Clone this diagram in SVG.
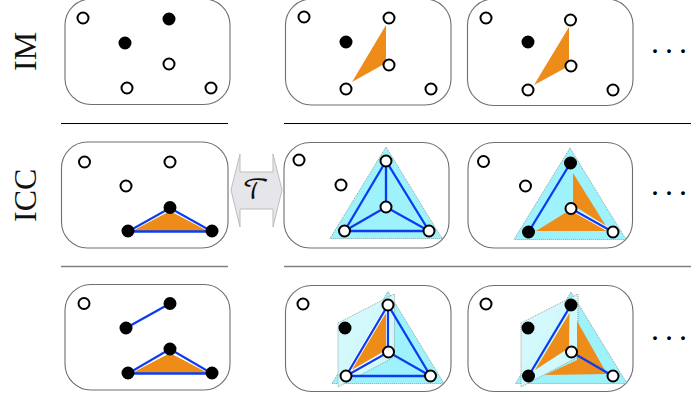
<svg xmlns="http://www.w3.org/2000/svg" width="691" height="398" viewBox="0 0 691 398">
<style>
.box{fill:#fff;stroke:#6f6f6f;stroke-width:1.1}
.o{fill:#fff;stroke:#000;stroke-width:2}
.b{fill:#000;stroke:#000;stroke-width:2}
.rule{stroke:#000;stroke-width:1;fill:none}
.rule2{stroke:#808080;stroke-width:1.5;fill:none}
.tri{fill:#9ef2fb;stroke:#777;stroke-width:.7;stroke-dasharray:1 1}
.par{fill:#d2f9fc;fill-opacity:.95;stroke:#777;stroke-width:.7;stroke-dasharray:1 1}
.org{fill:#ee8c1a;stroke:none}
.halo{stroke:#fff;stroke-width:4;fill:none;stroke-linecap:round}
.e{stroke:#0b3cf2;stroke-width:2.3;fill:none;stroke-linecap:round}
.lbl{font-family:"Liberation Serif",serif;font-size:32px;fill:#111}
.dots{font-family:"Liberation Serif",serif;font-size:32px;fill:#000}
</style>
<defs>
<circle id="n" r="5.5"/>
</defs>
<g id="labels">
<text class="lbl" transform="translate(36,71) rotate(-90)">IM</text>
<text class="lbl" transform="translate(36,222) rotate(-90)">ICC</text>
<text class="dots" x="651 665 679" y="53">...</text>
<text class="dots" x="651 665 679" y="195">...</text>
<text class="dots" x="651 665 679" y="340">...</text>
</g>
<g id="rules">
<path class="rule" d="M61 123.5H228M284 123.5H691"/>
<path class="rule2" d="M61 266.5H228M284 266.5H691"/>
</g>
<g id="panels">
<g id="im-1"><rect class="box" x="65" y="-1" width="165" height="105.5" rx="26"/></g>
<g id="im-2"><rect class="box" x="285.5" y="-1" width="165.5" height="106" rx="26"/><polygon class="org" points="386,25 386,63 352,82"/></g>
<g id="im-3"><rect class="box" x="467.5" y="-1" width="165.5" height="106.5" rx="26"/><polygon class="org" points="569,27 569,66 534,85"/></g>
<g id="icc-1"><rect class="box" x="61.5" y="142" width="166.5" height="106" rx="26"/><polygon class="org" points="170,211 208,231 132,231"/></g>
<g id="icc-2"><rect class="box" x="284" y="142.5" width="165" height="105.5" rx="26"/><polygon class="tri" points="386,147 330,238.5 442,238.5"/></g>
<g id="icc-3"><rect class="box" x="468" y="142.5" width="164.5" height="105.5" rx="26"/><polygon class="tri" points="570,148 514,239.5 626,239.5"/><polygon class="org" points="573,173 573,205 606,226"/><polygon class="org" points="565,213 575,210 607,231 536,231"/></g>
<g id="row3-1"><rect class="box" x="65" y="284.5" width="165" height="105.5" rx="26"/><polygon class="org" points="170,353 208,373 132,373"/></g>
<g id="row3-2"><rect class="box" x="285.5" y="285.5" width="165.5" height="106" rx="26"/><polygon class="tri" points="388,291.5 332,383.5 444,383.5"/><polygon class="par" points="338,323 394.5,294 394.5,357 338,387"/><polygon class="org" points="386,313 386,350 350,371"/></g>
<g id="row3-3"><rect class="box" x="468" y="285.5" width="165" height="106" rx="26"/><polygon class="tri" points="571,292 515.5,383.5 627,383.5"/><polygon class="par" points="521,323 578,294 578,357 521,387"/><polygon class="org" points="569.5,313 569,348 535,370"/><polygon class="org" points="577,321 607,374 545,375 577,360"/></g>
</g>
<g id="arrow-T">
<polygon points="231,190 240,154 240,172 273,172 273,154 282,190 273,227 273,209 240,209 240,227" fill="#e6e6ea" stroke="#bdbdbd" stroke-width="1"/>
<text x="256" y="199" text-anchor="middle" font-family="'DejaVu Math TeX Gyre','DejaVu Serif',serif" font-size="26" fill="#111">𝒯</text>
</g>
<g id="connectors">
<path class="halo" d="M128 231L170 208L212 231"/>
<path class="e" d="M128 231.5H212L170 208Z"/>
<path class="e" d="M386 161L344.5 231H429ZM386 161V207M344.5 231L386 207L429 231"/>
<path class="e" d="M570.5 163L528.5 232"/>
<path class="halo" d="M571 208.5L613 232"/>
<path class="e" d="M571 208.5L613 232"/>
<path class="e" d="M126 328L170 303.5"/>
<path class="halo" d="M128 373L170 349L212 373"/>
<path class="e" d="M128 373.5H212L170 349Z"/>
<path class="halo" d="M388 305L346 376L388.5 352Z"/>
<path class="e" d="M388 305L346 376H430.5ZM388 305V352M346 376L388.5 352L430.5 376"/>
<path class="e" d="M571 305L528.5 376"/>
<path class="e" d="M571.5 352L613 376"/>
</g>
<g id="nodes">
<use href="#n" class="o" x="83" y="18"/><use href="#n" class="b" x="169" y="19"/><use href="#n" class="b" x="125" y="43"/><use href="#n" class="o" x="169" y="64"/><use href="#n" class="o" x="127" y="88"/><use href="#n" class="o" x="211" y="88"/>
<use href="#n" class="o" x="304" y="17"/><use href="#n" class="o" x="389" y="18"/><use href="#n" class="b" x="346" y="42"/><use href="#n" class="o" x="389" y="65"/><use href="#n" class="o" x="346" y="89"/><use href="#n" class="o" x="431" y="89"/>
<use href="#n" class="o" x="486" y="18"/><use href="#n" class="o" x="570.5" y="20"/><use href="#n" class="b" x="528" y="42"/><use href="#n" class="o" x="571" y="66"/><use href="#n" class="o" x="528" y="90"/><use href="#n" class="o" x="613" y="90"/>
<use href="#n" class="o" x="84.5" y="162"/><use href="#n" class="o" x="170" y="162"/><use href="#n" class="o" x="126" y="186"/><use href="#n" class="b" x="170" y="207.5"/><use href="#n" class="b" x="128" y="231"/><use href="#n" class="b" x="212" y="231"/>
<use href="#n" class="o" x="299" y="160"/><use href="#n" class="o" x="341" y="185"/><use href="#n" class="o" x="386" y="161"/><use href="#n" class="o" x="386" y="207"/><use href="#n" class="o" x="344.5" y="231"/><use href="#n" class="o" x="429" y="231"/>
<use href="#n" class="o" x="483.5" y="161.5"/><use href="#n" class="o" x="525.5" y="186"/><use href="#n" class="b" x="570.5" y="163"/><use href="#n" class="o" x="571" y="208.5"/><use href="#n" class="b" x="528.5" y="232"/><use href="#n" class="o" x="613" y="232"/>
<use href="#n" class="o" x="84" y="303.5"/><use href="#n" class="b" x="170" y="303.5"/><use href="#n" class="b" x="126" y="328"/><use href="#n" class="b" x="170" y="349"/><use href="#n" class="b" x="128" y="373"/><use href="#n" class="b" x="212" y="373"/>
<use href="#n" class="o" x="303" y="304"/><use href="#n" class="b" x="345" y="328"/><use href="#n" class="o" x="388" y="305"/><use href="#n" class="o" x="388.5" y="352"/><use href="#n" class="o" x="346" y="376"/><use href="#n" class="o" x="430.5" y="376"/>
<use href="#n" class="o" x="486" y="304"/><use href="#n" class="b" x="528" y="328"/><use href="#n" class="b" x="571" y="305"/><use href="#n" class="o" x="571.5" y="352"/><use href="#n" class="b" x="528.5" y="376"/><use href="#n" class="o" x="613" y="376"/>
</g>
</svg>
